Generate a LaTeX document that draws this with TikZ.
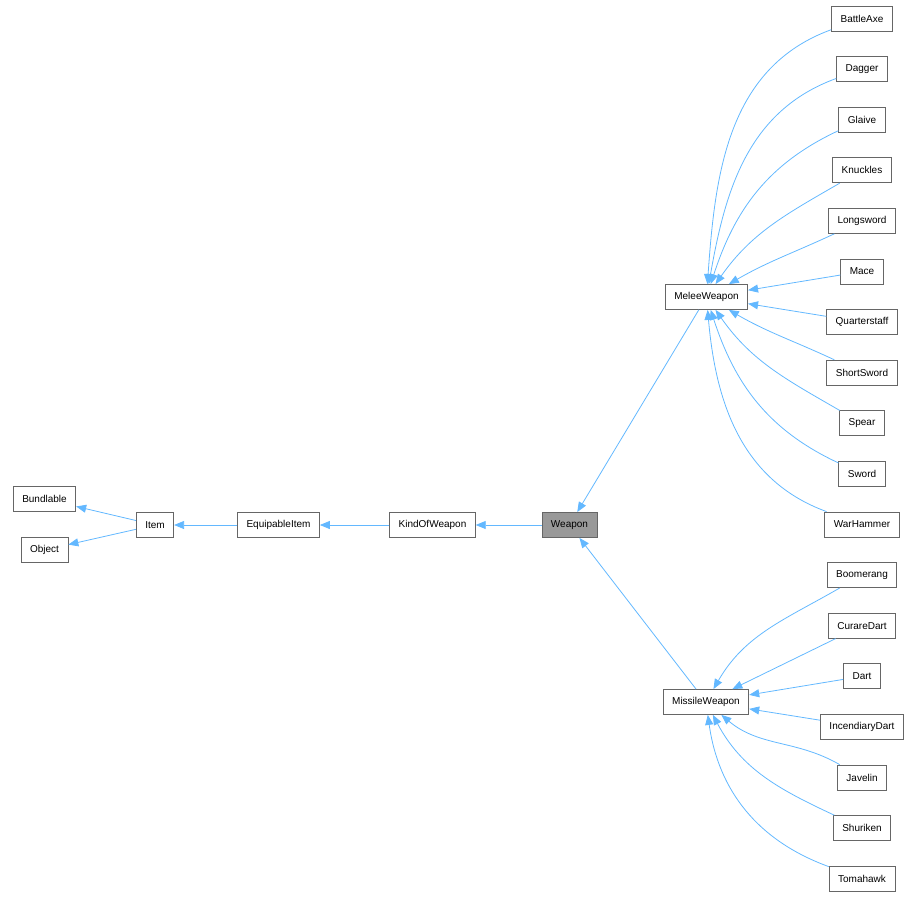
\documentclass[tikz,border=0pt]{standalone}
\usepackage{fontspec}
\setmainfont{Liberation Sans}
\usetikzlibrary{arrows.meta}

\definecolor{edgeblue}{HTML}{63B8FF}
\definecolor{boxgray}{HTML}{666666}
\definecolor{selgray}{HTML}{999999}

\tikzset{
  cls/.style = {draw=boxgray, fill=white, line width=0.8pt, minimum height=25pt,
                inner xsep=9pt, font=\fontsize{10}{12}\selectfont},
  edge/.style = {draw=edgeblue, line width=0.8pt,
                 -{Triangle[length=10pt, width=8pt]}}
}

\begin{document}
\begin{tikzpicture}[x=1pt, y=-1pt]
% Page size of the original graph (pixels, y downwards)
\useasboundingbox (0,0) rectangle (921,899);

% Base classes on the left
\node[cls] (Bundlable)     at (44.5, 499) {Bundlable};
\node[cls] (Object)        at (44.5, 550) {Object};
\node[cls] (Item)          at (155, 525)  {Item};
\node[cls] (EquipableItem) at (278.5, 525) {EquipableItem};
\node[cls] (KindOfWeapon)  at (432.5, 525) {KindOfWeapon};
\node[cls, fill=selgray] (Weapon) at (569.5, 525) {Weapon};

% The two direct subclasses
\node[cls] (MeleeWeapon)   at (706.5, 297) {MeleeWeapon};
\node[cls] (MissileWeapon) at (706, 702)   {MissileWeapon};

% Leaf classes, one column on the right
\foreach \name [count=\i from 0] in {BattleAxe, Dagger, Glaive, Knuckles, Longsword,
    Mace, Quarterstaff, ShortSword, Spear, Sword, WarHammer, Boomerang, CurareDart,
    Dart, IncendiaryDart, Javelin, Shuriken, Tomahawk}
  \node[cls] (\name) at (862, 18.5 + 50.6*\i) {\name};

% Inheritance chain
\draw[edge] (Item) -- (Bundlable);
\draw[edge] (Item) -- (Object);
\draw[edge] (EquipableItem) -- (Item);
\draw[edge] (KindOfWeapon) -- (EquipableItem);
\draw[edge] (Weapon) -- (KindOfWeapon);
\draw[edge] (MeleeWeapon) -- (Weapon);
\draw[edge] (MissileWeapon) -- (Weapon);

% Melee weapons
\draw[edge] (BattleAxe)    to[out=200, in=86]  (MeleeWeapon);
\draw[edge] (Dagger)       to[out=200, in=80]  (MeleeWeapon);
\draw[edge] (Glaive)       to[out=205, in=72]  (MeleeWeapon);
\draw[edge] (Knuckles)     to[out=210, in=55]  (MeleeWeapon);
\draw[edge] (Longsword)    to[out=205, in=30]  (MeleeWeapon);
\draw[edge] (Mace)         -- (MeleeWeapon);
\draw[edge] (Quarterstaff) -- (MeleeWeapon);
\draw[edge] (ShortSword)   to[out=155, in=-30] (MeleeWeapon);
\draw[edge] (Spear)        to[out=150, in=-55] (MeleeWeapon);
\draw[edge] (Sword)        to[out=155, in=-72] (MeleeWeapon);
\draw[edge] (WarHammer)    to[out=160, in=-85] (MeleeWeapon);

% Missile weapons
\draw[edge] (Boomerang)      to[out=210, in=60] (MissileWeapon);
\draw[edge] (CurareDart)     -- (MissileWeapon);
\draw[edge] (Dart)           -- (MissileWeapon);
\draw[edge] (IncendiaryDart) -- (MissileWeapon);
\draw[edge] (Javelin)        to[out=150, in=-40] (MissileWeapon);
\draw[edge] (Shuriken)       to[out=155, in=-62] (MissileWeapon);
\draw[edge] (Tomahawk)       to[out=160, in=-82] (MissileWeapon);
\end{tikzpicture}
\end{document}
